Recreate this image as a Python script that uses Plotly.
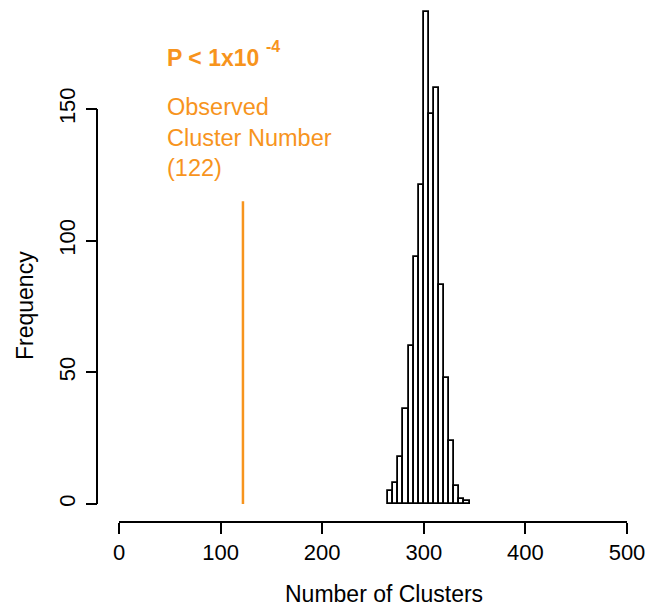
import plotly.graph_objects as go

# Histogram of permuted cluster numbers (bin width 5)
bin_starts = [265, 270, 275, 280, 285, 290, 295, 300, 305, 310, 315, 320, 325, 330, 335, 340]
frequencies = [5, 8, 18, 36, 60, 94, 121, 187, 148, 158, 83, 48, 24, 7, 2, 1]
bin_width = 5

observed_value = 122
observed_line_top = 115

x_ticks = [0, 100, 200, 300, 400, 500]
y_ticks = [0, 50, 100, 150]

orange = "#F7941D"
font_family = "Liberation Sans, Arial, Helvetica, sans-serif"

bin_centers = [b + bin_width / 2 for b in bin_starts]

fig = go.Figure()
fig.add_trace(go.Bar(
    x=bin_centers, y=frequencies, width=[bin_width] * len(bin_starts),
    marker=dict(color="white", line=dict(color="black", width=1.8)),
    showlegend=False, hoverinfo="x+y",
))
fig.add_trace(go.Scatter(
    x=[observed_value, observed_value], y=[0, observed_line_top],
    mode="lines", line=dict(color=orange, width=2.5), showlegend=False,
))

W, H = 662, 606
ml, mr, mt, mb = 97, 35, 5, 84
pw, ph = W - ml - mr, H - mt - mb
x0_px = 119
px_per_x = 508.3 / 500
y0_px = 504
px_per_y = 2.633
y_top = (y0_px - mt) / px_per_y

def px_x(p):
    return (p - ml) / pw

def px_y(p):
    return (H - mb - p) / ph

def dx(p):
    return (p - x0_px) / px_per_x

def dy(p):
    return (y0_px - p) / px_per_y

fig.update_layout(
    width=W, height=H,
    margin=dict(l=ml, r=mr, t=mt, b=mb),
    paper_bgcolor="white", plot_bgcolor="white",
    font=dict(family=font_family, size=22, color="black"),
    bargap=0,
    xaxis=dict(
        domain=[px_x(x0_px), 1], range=[0, 500],
        tickvals=x_ticks, ticktext=[str(v) for v in x_ticks],
        showline=True, linecolor="black", linewidth=2,
        ticks="outside", ticklen=11, tickwidth=2, tickcolor="black",
        showgrid=False, zeroline=False,
        anchor="free", position=0,
        tickfont=dict(size=22),
    ),
    yaxis=dict(
        domain=[px_y(y0_px), 1], range=[0, y_top],
        tickvals=y_ticks, ticktext=[str(v) for v in y_ticks],
        ticks="outside", ticklen=11, tickwidth=2, tickcolor="black",
        showline=False, showgrid=False, zeroline=False,
        anchor="free", position=0,
        tickangle=-90, tickfont=dict(size=22),
        ticklabelstandoff=2,
    ),
    shapes=[dict(type="line", xref="paper", yref="y", x0=0, x1=0,
                 y0=y_ticks[0], y1=y_ticks[-1],
                 line=dict(color="black", width=2))],
    annotations=[
        dict(text="Number of Clusters", xref="paper", yref="paper",
             x=px_x(384), y=px_y(594), xanchor="center", yanchor="middle",
             showarrow=False, font=dict(size=23)),
        dict(text="Frequency", xref="paper", yref="paper",
             x=px_x(25), y=px_y(306), xanchor="center", yanchor="middle",
             textangle=-90, showarrow=False, font=dict(size=23)),
        dict(text="<b>P &lt; 1x10</b>", xref="x", yref="y",
             x=dx(165), y=dy(58), xanchor="left", yanchor="middle",
             showarrow=False, font=dict(size=23, color=orange), align="left"),
        dict(text="<b>-4</b>", xref="x", yref="y",
             x=dx(264), y=dy(46), xanchor="left", yanchor="middle",
             showarrow=False, font=dict(size=16, color=orange), align="left"),
        dict(text="Observed<br>Cluster Number<br>(%d)" % observed_value, xref="x", yref="y",
             x=dx(165), y=dy(137.5), xanchor="left", yanchor="middle",
             showarrow=False, font=dict(size=23.5, color=orange), align="left"),
    ],
)

fig.write_html("out.html", config={"displayModeBar": False},
               post_script="document.body.style.margin='0px';")
